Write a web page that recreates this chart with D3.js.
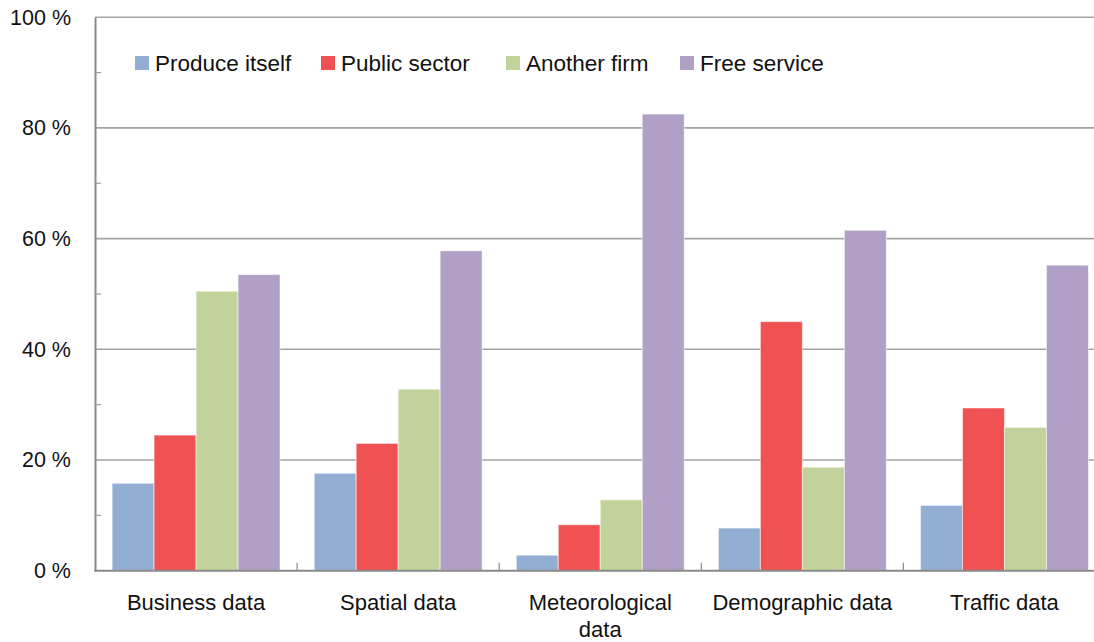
<!DOCTYPE html>
<html>
<head>
<meta charset="utf-8">
<script src="https://cdn.jsdelivr.net/npm/d3@7"></script>
<style>
  html, body { margin: 0; padding: 0; background: #fff; }
  svg { display: block; }
  text { font-family: "Liberation Sans", "DejaVu Sans", sans-serif; fill: #111; }
</style>
</head>
<body>
<svg id="chart" width="1094" height="642"></svg>
<script>
const categories = ["Business data", "Spatial data", "Meteorological data", "Demographic data", "Traffic data"];
const seriesNames = ["Produce itself", "Public sector", "Another firm", "Free service"];
const produceItself = [15.8, 17.6, 2.8, 7.7, 11.8];
const publicSector  = [24.5, 23.0, 8.3, 45.0, 29.4];
const anotherFirm   = [50.5, 32.8, 12.8, 18.7, 25.9];
const freeService   = [53.5, 57.8, 82.5, 61.5, 55.2];
const seriesColors  = ["#92afd3", "#f05152", "#c1d39b", "#b0a0c5"];
const yTicks = [0, 20, 40, 60, 80, 100];
const yMinorTicks = [10, 30, 50, 70, 90];

const seriesValues = [produceItself, publicSector, anotherFirm, freeService];

const svg = d3.select("#chart");
const mLeft = 95, mRight = 1105.5, mTop = 17.2, mBottom = 570.7;

const x0 = d3.scaleBand().domain(categories).range([mLeft, mRight])
  .paddingInner(0.169).paddingOuter(0.0845);
const x1 = d3.scaleBand().domain(seriesNames).range([0, x0.bandwidth()]).padding(0);
const y = d3.scaleLinear().domain([0, 100]).range([mBottom, mTop]);

// gridlines
svg.append("g").selectAll("line").data(yTicks.filter(d => d > 0)).join("line")
  .attr("x1", mLeft).attr("x2", mRight)
  .attr("y1", d => y(d)).attr("y2", d => y(d))
  .attr("stroke", "#a3a3a3").attr("stroke-width", 1.6);

// bars
const groups = svg.append("g").selectAll("g").data(categories).join("g")
  .attr("transform", c => `translate(${x0(c)},0)`);
groups.selectAll("rect")
  .data((c, ci) => seriesNames.map((s, si) => ({ s, v: seriesValues[si][ci], color: seriesColors[si] })))
  .join("rect")
  .attr("x", d => x1(d.s))
  .attr("width", x1.bandwidth())
  .attr("y", d => y(d.v))
  .attr("height", d => y(0) - y(d.v))
  .attr("fill", d => d.color)
  .attr("stroke", "rgba(255,255,255,0.55)")
  .attr("stroke-width", 1);

// left axis
const yAxis = d3.axisLeft(y).tickValues(yTicks).tickSize(0).tickPadding(24)
  .tickFormat(d => d + " %");
const ya = svg.append("g").attr("transform", `translate(${mLeft},0)`).call(yAxis);
ya.select(".domain").attr("stroke", "#8a8a8a").attr("stroke-width", 2);
ya.selectAll("text").attr("font-size", 21.5).attr("fill", "#111")
  .style("font-family", "'Liberation Sans', sans-serif");

// minor ticks (inward)
svg.append("g").selectAll("line").data(yMinorTicks).join("line")
  .attr("x1", mLeft).attr("x2", mLeft + 6)
  .attr("y1", d => y(d)).attr("y2", d => y(d))
  .attr("stroke", "#9a9a9a").attr("stroke-width", 1.2);

// bottom axis
svg.append("line").attr("x1", mLeft - 1).attr("x2", mRight)
  .attr("y1", mBottom).attr("y2", mBottom)
  .attr("stroke", "#8a8a8a").attr("stroke-width", 2);
const boundaries = categories.slice(1).map(c => x0(c) - x0.step() * x0.paddingInner() / 2);
svg.append("g").selectAll("line").data(boundaries).join("line")
  .attr("x1", d => d).attr("x2", d => d)
  .attr("y1", mBottom).attr("y2", mBottom - 8)
  .attr("stroke", "#8a8a8a").attr("stroke-width", 1.2);

// category labels
const labels = svg.append("g").selectAll("text").data(categories).join("text")
  .attr("x", c => x0(c) + x0.bandwidth() / 2)
  .attr("y", 610)
  .attr("text-anchor", "middle")
  .attr("font-size", 22);
labels.each(function(c) {
  const t = d3.select(this);
  const parts = c === "Meteorological data" ? ["Meteorological", "data"] : [c];
  parts.forEach((p, i) => {
    t.append("tspan").attr("x", x0(c) + x0.bandwidth() / 2).attr("dy", i === 0 ? 0 : 27).text(p);
  });
});

// legend
const legendX = [135, 321, 506, 680];
const leg = svg.append("g").selectAll("g").data(seriesNames).join("g")
  .attr("transform", (d, i) => `translate(${legendX[i]},56)`);
leg.append("rect").attr("width", 14).attr("height", 14)
  .attr("fill", (d, i) => seriesColors[i]);
leg.append("text").attr("x", 20).attr("y", 14.5).attr("font-size", 22.5).text(d => d);
</script>
</body>
</html>
